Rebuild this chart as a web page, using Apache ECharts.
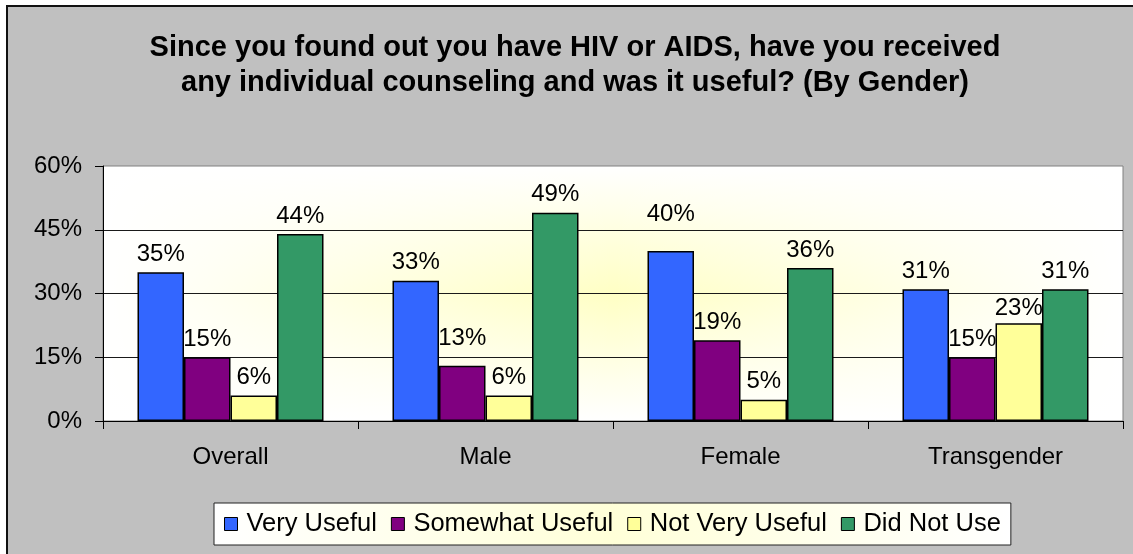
<!DOCTYPE html>
<html><head><meta charset="utf-8">
<script src="https://cdn.jsdelivr.net/npm/echarts@6/dist/echarts.min.js"></script>
<style>html,body{margin:0;padding:0;background:#fff}#c{width:1133px;height:554px}</style>
</head><body><div id="c"></div>
<script>
// ---- data ----
const categories = ['Overall', 'Male', 'Female', 'Transgender'];
const seriesNames = ['Very Useful', 'Somewhat Useful', 'Not Very Useful', 'Did Not Use'];
const veryUseful = [35, 33, 40, 31];
const somewhatUseful = [15, 13, 19, 15];
const notVeryUseful = [6, 6, 5, 23];
const didNotUse = [44, 49, 36, 31];
const yTicks = [0, 15, 30, 45, 60];
const titleText = 'Since you found out you have HIV or AIDS, have you received\nany individual counseling and was it useful? (By Gender)';

// ---- styling ----
const FONT = '"Liberation Sans", Arial, sans-serif';
const colors = ['#3366FF', '#800080', '#FFFF99', '#339966'];
const values = [veryUseful, somewhatUseful, notVeryUseful, didNotUse];
// label nudges (style only), keyed by series then category index
const labelNudge = { 0: { 2: [0, -19] }, 1: { 1: [0, -9] }, 2: { 3: [0, 3] } };

const gridPos = { left: 103, right: 10, top: 166, bottom: 133 };

const series = values.map((vals, si) => ({
  name: seriesNames[si],
  type: 'bar',
  xAxisIndex: 0, yAxisIndex: 0,
  barWidth: 46.5,
  barGap: '0%',
  itemStyle: { color: colors[si], borderColor: '#000', borderWidth: 1.5 },
  label: {
    show: true, position: 'top', distance: 6,
    formatter: '{c}%', color: '#000', fontSize: 24, fontFamily: FONT
  },
  data: vals.map((v, ci) => {
    const off = labelNudge[si] && labelNudge[si][ci];
    return off ? { value: v, label: { offset: off } } : v;
  })
}));

const chart = echarts.init(document.getElementById('c'), null, { renderer: 'canvas' });
chart.setOption({
  backgroundColor: '#ffffff',
  animation: false,
  graphic: [{
    type: 'rect', z: -10, silent: true,
    shape: { x: 7, y: 6, width: 1140, height: 560 },
    style: { fill: '#C0C0C0', stroke: '#111', lineWidth: 2 }
  }],
  title: {
    text: titleText,
    left: 575, top: 30, padding: 0,
    textAlign: 'center',
    textStyle: { fontSize: 29, fontWeight: 'bold', fontFamily: FONT, color: '#000', lineHeight: 35.5 }
  },
  legend: {
    data: seriesNames,
    left: 214, top: 503,
    padding: [8, 10, 8, 10],
    itemGap: 14, itemWidth: 13, itemHeight: 13,
    icon: 'rect',
    itemStyle: { borderColor: '#000', borderWidth: 1 },
    borderColor: '#222', borderWidth: 1,
    backgroundColor: new echarts.graphic.LinearGradient(0, 0, 1, 0, [
      { offset: 0, color: '#ffffff' }, { offset: 0.5, color: '#FFFFD8' }, { offset: 1, color: '#ffffff' }
    ]),
    textStyle: { fontSize: 25.5, fontFamily: FONT, color: '#000', padding: [0, 0, 0, 4] }
  },
  grid: [
    Object.assign({ show: true, borderWidth: 0,
      backgroundColor: new echarts.graphic.LinearGradient(0, 0, 0, 1, [
        { offset: 0, color: '#ffffff' }, { offset: 0.5, color: '#FFFFC4' }, { offset: 1, color: '#ffffff' }
      ]) }, gridPos),
    Object.assign({ show: true, borderColor: '#808080', borderWidth: 1,
      backgroundColor: new echarts.graphic.LinearGradient(0, 0, 1, 0, [
        { offset: 0, color: 'rgba(255,255,255,1)' }, { offset: 0.5, color: 'rgba(255,255,255,0)' }, { offset: 1, color: 'rgba(255,255,255,1)' }
      ]) }, gridPos)
  ],
  xAxis: [{
    type: 'category', data: categories, gridIndex: 0,
    axisLine: { lineStyle: { color: '#000', width: 1 } },
    axisTick: { show: true, length: 8, lineStyle: { color: '#000' } },
    axisLabel: { margin: 24, fontSize: 24, fontFamily: FONT, color: '#000' },
    splitLine: { show: false }
  }, {
    type: 'category', data: categories, gridIndex: 1, show: false
  }],
  yAxis: [{
    type: 'value', gridIndex: 0,
    min: yTicks[0], max: yTicks[yTicks.length - 1], interval: yTicks[1] - yTicks[0],
    axisLine: { show: true, lineStyle: { color: '#000', width: 1 } },
    axisTick: { show: true, length: 8, lineStyle: { color: '#000' } },
    axisLabel: { margin: 21, fontSize: 24, fontFamily: FONT, color: '#000', formatter: '{value}%' },
    splitLine: { show: true, showMaxLine: false, lineStyle: { color: '#1a1a1a', width: 1 } }
  }, {
    type: 'value', gridIndex: 1, show: false,
    min: yTicks[0], max: yTicks[yTicks.length - 1], interval: yTicks[1] - yTicks[0],
    splitLine: { show: false }
  }],
  series: series
});
</script></body></html>
